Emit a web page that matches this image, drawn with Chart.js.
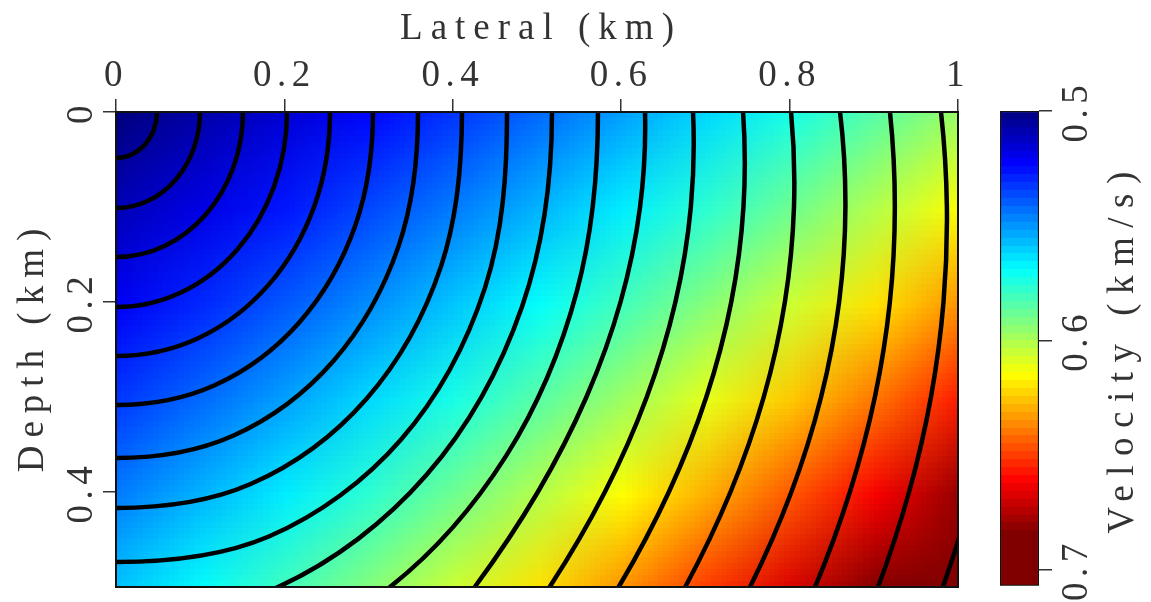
<!DOCTYPE html>
<html>
<head>
<meta charset="utf-8">
<script src="https://cdn.jsdelivr.net/npm/chart.js@4.4.1/dist/chart.umd.min.js"></script>
<style>
  html, body { margin: 0; padding: 0; background: #fff; }
  #wrap { position: relative; width: 1151px; height: 602px; }
  #field { position: absolute; left: 0; top: 0; }
  #cbar { position: absolute; left: 990px; top: 0; }
</style>
</head>
<body>
<div id="wrap">
  <canvas id="field" width="1151" height="602"></canvas>
  <canvas id="cbar" width="161" height="602"></canvas>
</div>
<script>
// ---- data ----
const lateralTicks = [0, 0.2, 0.4, 0.6, 0.8, 1];
const depthTicks = [0, 0.2, 0.4];
const velocityTicks = [0.5, 0.6, 0.7];
const lateralTitle = 'Lateral (km)';
const depthTitle = 'Depth (km)';
const velocityTitle = 'Velocity (km/s)';

const vMin = 0.5;
const vMax = 0.7071;

// velocity samples (km/s), one row per depth, one column per lateral position
const gridX = [0, 0.1, 0.2, 0.3, 0.4, 0.5, 0.6, 0.7, 0.8, 0.9, 1];
const gridZ = [0, 0.1, 0.2, 0.3, 0.4, 0.5];
const velocity = [
  [0.5000, 0.5077, 0.5157, 0.5241, 0.5330, 0.5423, 0.5522, 0.5625, 0.5735, 0.5852, 0.5976],
  [0.5103, 0.5185, 0.5270, 0.5361, 0.5455, 0.5556, 0.5661, 0.5774, 0.5893, 0.6019, 0.6155],
  [0.5213, 0.5300, 0.5392, 0.5488, 0.5590, 0.5698, 0.5812, 0.5934, 0.6063, 0.6202, 0.6350],
  [0.5330, 0.5423, 0.5522, 0.5625, 0.5735, 0.5852, 0.5976, 0.6108, 0.6250, 0.6402, 0.6565],
  [0.5455, 0.5556, 0.5661, 0.5774, 0.5893, 0.6019, 0.6155, 0.6299, 0.6455, 0.6623, 0.6804],
  [0.5590, 0.5698, 0.5812, 0.5934, 0.6063, 0.6202, 0.6350, 0.6509, 0.6682, 0.6868, 0.7071]
];

// traveltime contours, [lateral, depth] points along each curve
// (first/last points sit just outside the frame and are clipped away)
const contours = [
  [[0.0450, -0.0185], [0.0487, 0], [0.0450, 0.0185], [0.0344, 0.0342], [0.0186, 0.0447], [0, 0.0484], [-0.0186, 0.0447]],
  [[0.0922, -0.0387], [0.0998, 0], [0.0922, 0.0387], [0.0706, 0.0715], [0.0382, 0.0934], [0, 0.1011], [-0.0382, 0.0934]],
  [[0.1393, -0.0584], [0.1508, 0], [0.1393, 0.0584], [0.1066, 0.1079], [0.0577, 0.1410], [0, 0.1526], [-0.0577, 0.1410]],
  [[0.1876, -0.0786], [0.2031, 0], [0.1876, 0.0786], [0.1436, 0.1452], [0.0777, 0.1897], [0, 0.2053], [-0.0777, 0.1897]],
  [[0.2357, -0.0986], [0.2542, 0], [0.2357, 0.0986], [0.1806, 0.1825], [0.0976, 0.2381], [0, 0.2568], [-0.0976, 0.2381]],
  [[0.2844, -0.1190], [0.3052, 0], [0.2844, 0.1190], [0.2184, 0.2207], [0.1178, 0.2873], [0, 0.3084], [-0.1178, 0.2873]],
  [[0.3356, -0.1412], [0.3587, 0], [0.3356, 0.1412], [0.2582, 0.2621], [0.1390, 0.3408], [0, 0.3642], [-0.1390, 0.3408]],
  [[0.3861, -0.1622], [0.4109, 0], [0.3861, 0.1622], [0.2976, 0.3018], [0.1599, 0.3916], [0, 0.4168], [-0.1599, 0.3916]],
  [[0.4382, -0.1851], [0.4644, 0], [0.4382, 0.1851], [0.3383, 0.3450], [0.1815, 0.4469], [0, 0.4737], [-0.1815, 0.4469]],
  [[0.4823, -0.2047], [0.5178, 0], [0.4823, 0.2047], [0.3689, 0.3819], [0.1924, 0.5], [-0.0188, 0.5377]],
  [[0.5474, -0.1885], [0.5724, 0], [0.5474, 0.1885], [0.4633, 0.3620], [0.3254, 0.5], [0.1456, 0.5841]],
  [[0.6170, -0.1], [0.6283, 0], [0.6224, 0.1], [0.5992, 0.2], [0.5587, 0.3], [0.5010, 0.4], [0.4260, 0.5], [0.3338, 0.6]],
  [[0.6721, -0.1], [0.6853, 0], [0.6827, 0.1], [0.6644, 0.2], [0.6304, 0.3], [0.5806, 0.4], [0.5150, 0.5], [0.4337, 0.6]],
  [[0.7292, -0.1], [0.7447, 0], [0.7452, 0.1], [0.7307, 0.2], [0.7011, 0.3], [0.6566, 0.4], [0.5970, 0.5], [0.5224, 0.6]],
  [[0.7838, -0.1], [0.8017, 0], [0.8052, 0.1], [0.7944, 0.2], [0.7693, 0.3], [0.7298, 0.4], [0.6760, 0.5], [0.6079, 0.6]],
  [[0.8396, -0.1], [0.8599, 0], [0.8663, 0.1], [0.8588, 0.2], [0.8374, 0.3], [0.8021, 0.4], [0.7530, 0.5], [0.6899, 0.6]],
  [[0.9015, -0.1], [0.9192, 0], [0.9250, 0.1], [0.9191, 0.2], [0.9013, 0.3], [0.8716, 0.4], [0.8302, 0.5], [0.7769, 0.6]],
  [[0.9618, -0.1], [0.9798, 0], [0.9868, 0.1], [0.9828, 0.2], [0.9679, 0.3], [0.9419, 0.4], [0.9050, 0.5], [0.8571, 0.6]],
  [[1.0408, 0.3], [1.0167, 0.4], [0.9820, 0.5], [0.9367, 0.6]]
];

// colour table (jet with a dark red end)
const cmapPos = [0, 1 / 9, 3 / 9, 5 / 9, 7 / 9, 8 / 9, 1];
const cmapRgb = [[0, 0, 128], [0, 0, 255], [0, 255, 255], [255, 255, 0], [255, 0, 0], [128, 0, 0], [128, 0, 0]];
const barLevels = 60;

const FONT = 'Liberation Serif';
const INK = '#333';

function colorOf(v){
  let f = (v - vMin) / (vMax - vMin);
  f = Math.max(0, Math.min(1, f));
  for(let i = 1; i < cmapPos.length; i++){
    if(f <= cmapPos[i]){
      const t = (f - cmapPos[i - 1]) / (cmapPos[i] - cmapPos[i - 1]);
      const a = cmapRgb[i - 1], b = cmapRgb[i];
      return a.map((c, k) => Math.round(c + (b[k] - c) * t));
    }
  }
  return cmapRgb[cmapRgb.length - 1];
}

// small image holding one pixel per velocity sample; the browser smooths it when scaled
const fieldImg = document.createElement('canvas');
fieldImg.width = gridX.length;
fieldImg.height = gridZ.length;
(function(){
  const c = fieldImg.getContext('2d');
  const img = c.createImageData(gridX.length, gridZ.length);
  velocity.forEach((row, j) => row.forEach((v, i) => {
    const rgb = colorOf(v);
    const o = (j * gridX.length + i) * 4;
    img.data[o] = rgb[0]; img.data[o + 1] = rgb[1]; img.data[o + 2] = rgb[2]; img.data[o + 3] = 255;
  }));
  c.putImageData(img, 0, 0);
})();

const spacing = {
  id: 'spacing',
  beforeLayout(chart){ chart.ctx.letterSpacing = '5.5px'; },
  beforeDraw(chart){ chart.ctx.letterSpacing = '5.5px'; }
};

const heatmap = {
  id: 'heatmap',
  beforeDatasetsDraw(chart){
    const {ctx, chartArea: a, scales: {x, y}} = chart;
    const hx = (gridX[1] - gridX[0]) / 2, hz = (gridZ[1] - gridZ[0]) / 2;
    const x0 = x.getPixelForValue(gridX[0] - hx), x1 = x.getPixelForValue(gridX[gridX.length - 1] + hx);
    const y0 = y.getPixelForValue(gridZ[0] - hz), y1 = y.getPixelForValue(gridZ[gridZ.length - 1] + hz);
    ctx.save();
    ctx.beginPath();
    ctx.rect(a.left, a.top, a.right - a.left, a.bottom - a.top);
    ctx.clip();
    ctx.imageSmoothingEnabled = true;
    ctx.imageSmoothingQuality = 'low';
    ctx.drawImage(fieldImg, x0, y0, x1 - x0, y1 - y0);
    ctx.restore();
  }
};

const frame = {
  id: 'frame',
  afterDatasetsDraw(chart){
    const {ctx, chartArea: a} = chart;
    ctx.save();
    ctx.strokeStyle = '#111';
    ctx.lineWidth = 2;
    ctx.strokeRect(a.left, a.top, a.right - a.left, a.bottom - a.top);
    ctx.restore();
  }
};

const fieldTitles = {
  id: 'fieldTitles',
  afterDraw(chart){
    const {ctx, chartArea: a} = chart;
    ctx.save();
    ctx.font = `37px "${FONT}"`;
    ctx.fillStyle = INK;
    ctx.textAlign = 'center';
    ctx.textBaseline = 'alphabetic';
    ctx.letterSpacing = '8px';
    ctx.fillText(lateralTitle, (a.left + a.right) / 2 + 4, 39);
    ctx.translate(43, (a.top + a.bottom) / 2 + 1);
    ctx.rotate(-Math.PI / 2);
    ctx.fillText(depthTitle, 4, 0);
    ctx.restore();
  }
};

const barTitle = {
  id: 'barTitle',
  afterDraw(chart){
    const ctx = chart.ctx;
    ctx.save();
    ctx.font = `37px "${FONT}"`;
    ctx.fillStyle = INK;
    ctx.textAlign = 'center';
    ctx.textBaseline = 'alphabetic';
    ctx.letterSpacing = '9.5px';
    ctx.translate(143, 353);
    ctx.rotate(-Math.PI / 2);
    ctx.fillText(velocityTitle, 5, 0);
    ctx.restore();
  }
};

const tickFont = {family: FONT, size: 37};
const tickGrid = {drawOnChartArea: false, drawTicks: true, tickLength: 13, color: INK, lineWidth: 1.5};
const setTicks = values => scale => { scale.ticks = values.map(v => ({value: v})); };

new Chart(document.getElementById('field'), {
  type: 'scatter',
  data: {
    datasets: contours.map(c => ({
      data: c.map(p => ({x: p[0], y: p[1]})),
      showLine: true,
      borderColor: '#000',
      borderWidth: 4.5,
      pointRadius: 0,
      tension: 0.34,
      fill: false
    }))
  },
  options: {
    responsive: false,
    animation: false,
    events: [],
    elements: { line: { capBezierPoints: false } },
    layout: { padding: { left: 0, top: 0, right: 193, bottom: 15 } },
    plugins: { legend: { display: false }, tooltip: { enabled: false } },
    scales: {
      x: {
        type: 'linear', position: 'top', min: 0, max: 1,
        afterBuildTicks: setTicks(lateralTicks),
        afterFit: s => { s.height = 112; },
        grid: tickGrid,
        border: { display: false },
        ticks: { font: tickFont, color: INK, padding: 1, maxRotation: 0, autoSkip: false, callback: v => String(v) }
      },
      y: {
        type: 'linear', position: 'left', reverse: true, min: 0, max: 0.5,
        afterBuildTicks: setTicks(depthTicks),
        afterFit: s => { s.width = 116; },
        grid: tickGrid,
        border: { display: false },
        ticks: { font: tickFont, color: INK, padding: -11, minRotation: 90, maxRotation: 90, crossAlign: 'center', autoSkip: false, callback: v => String(v) }
      }
    }
  },
  plugins: [spacing, heatmap, frame, fieldTitles]
});

// colour bar painted in discrete steps, like the original
function barGradient(chart){
  const {ctx, chartArea, scales} = chart;
  if(!chartArea) return '#000';
  const y = scales.y;
  const g = ctx.createLinearGradient(0, y.getPixelForValue(vMin), 0, y.getPixelForValue(vMax));
  for(let i = 0; i < barLevels; i++){
    const rgb = colorOf(vMin + (i + 0.5) / barLevels * (vMax - vMin));
    const col = `rgb(${rgb.join(',')})`;
    g.addColorStop(i / barLevels, col);
    g.addColorStop((i + 1) / barLevels, col);
  }
  return g;
}

new Chart(document.getElementById('cbar'), {
  type: 'bar',
  data: {
    labels: [''],
    datasets: [{
      data: [[vMin, vMax]],
      backgroundColor: c => barGradient(c.chart),
      borderColor: '#111',
      borderWidth: 1.5,
      borderSkipped: false,
      barPercentage: 1,
      categoryPercentage: 1
    }]
  },
  options: {
    responsive: false,
    animation: false,
    events: [],
    layout: { padding: { left: 10, top: 111, right: 0, bottom: 15 } },
    plugins: { legend: { display: false }, tooltip: { enabled: false } },
    scales: {
      x: { display: false },
      y: {
        position: 'right', reverse: true, min: vMin, max: vMax,
        afterBuildTicks: setTicks(velocityTicks),
        afterFit: s => { s.width = 112; },
        grid: tickGrid,
        border: { display: false },
        ticks: { font: tickFont, color: INK, padding: -6, minRotation: 90, maxRotation: 90, crossAlign: 'center', autoSkip: false, callback: v => String(v) }
      }
    }
  },
  plugins: [spacing, barTitle]
});
</script>
</body>
</html>
